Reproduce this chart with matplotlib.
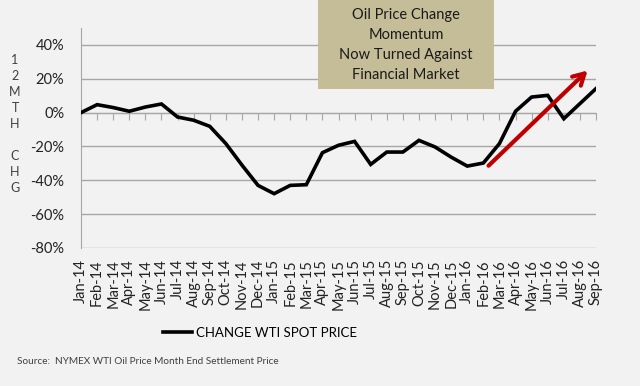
import numpy as np
import matplotlib.pyplot as plt
from matplotlib.patches import Rectangle

plt.rcParams['font.family'] = ['Lato', 'DejaVu Sans']

months = ['Jan-14', 'Feb-14', 'Mar-14', 'Apr-14', 'May-14', 'Jun-14', 'Jul-14', 'Aug-14',
          'Sep-14', 'Oct-14', 'Nov-14', 'Dec-14', 'Jan-15', 'Feb-15', 'Mar-15', 'Apr-15',
          'May-15', 'Jun-15', 'Jul-15', 'Aug-15', 'Sep-15', 'Oct-15', 'Nov-15', 'Dec-15',
          'Jan-16', 'Feb-16', 'Mar-16', 'Apr-16', 'May-16', 'Jun-16', 'Jul-16', 'Aug-16',
          'Sep-16']
wti_change = [0.0, 4.7, 3.0, 0.8, 3.3, 5.1, -2.6, -4.5,
              -8.1, -18.3, -31.0, -43.0, -47.9, -43.0, -42.6, -23.7,
              -19.3, -17.0, -30.6, -23.3, -23.3, -16.4, -20.3, -26.3,
              -31.6, -29.8, -18.3, 0.8, 9.2, 10.2, -3.6, 5.3,
              14.2]
y_ticks = [-80, -60, -40, -20, 0, 20, 40]
arrow_start = (25.2, -32.5)
arrow_end = (31.6, 26)

bg = '#f2f2f2'
fig = plt.figure(figsize=(6.4, 3.86), dpi=100, facecolor=bg)
ax = fig.add_axes([81/640, 1-248/386, 515/640, 220/386], facecolor=bg)

x = np.arange(len(months))
ax.plot(x, wti_change, color='black', lw=2.6, label='CHANGE WTI SPOT PRICE', zorder=3,
        solid_joinstyle='miter')

ax.set_xlim(0, len(months)-1)
ax.set_ylim(-80, 50)
ax.set_yticks(y_ticks)
ax.set_yticklabels([f'{v}%' for v in y_ticks], fontsize=10.5, color='#222222')
ax.tick_params(axis='y', length=0, pad=12)
ax.grid(axis='y', color='#a6a6a6', lw=1)
ax.set_axisbelow(True)

for s in ['top', 'right']:
    ax.spines[s].set_visible(False)
ax.spines['left'].set_color('#a6a6a6')
ax.spines['bottom'].set_position(('data', 0))
ax.spines['bottom'].set_color('#a6a6a6')
ax.set_xticks(x)
ax.tick_params(axis='x', direction='out', length=5, color='#a6a6a6', labelbottom=False)

sec = ax.secondary_xaxis('bottom')
sec.set_xticks(x)
sec.set_xticklabels(months, rotation=90, fontsize=10.5, color='#222222')
sec.tick_params(length=0, pad=8)
sec.spines['bottom'].set_visible(False)

ax.annotate('', xy=arrow_end, xytext=arrow_start,
            arrowprops=dict(arrowstyle='->,head_length=0.8,head_width=0.45',
                            color='#c00000', lw=3), zorder=4)

fig.patches.append(Rectangle((318/640, 1-89/386), 176/640, 89/386,
                             transform=fig.transFigure, facecolor='#c4bd97',
                             edgecolor='none', zorder=5))
fig.text(406/640, 1-45/386, 'Oil Price Change\nMomentum\nNow Turned Against\nFinancial Market',
         ha='center', va='center', fontsize=10.5, linespacing=1.55, color='#1a1a1a', zorder=6)

fig.text(15/640, 1-124/386, '1\n2\nM\nT\nH\n\nC\nH\nG', ha='center', va='center',
         fontsize=9, linespacing=1.4, color='#404040')

fig.legend(loc='center', bbox_to_anchor=(260/640, 1-333/386), frameon=False,
           fontsize=9.5, handlelength=2.2, handletextpad=0.3)

fig.text(17/640, 1-362/386, 'Source:  NYMEX WTI Oil Price Month End Settlement Price',
         fontsize=7.2, color='#404040', va='center')

fig.savefig('out.png', dpi=100, facecolor=bg)
